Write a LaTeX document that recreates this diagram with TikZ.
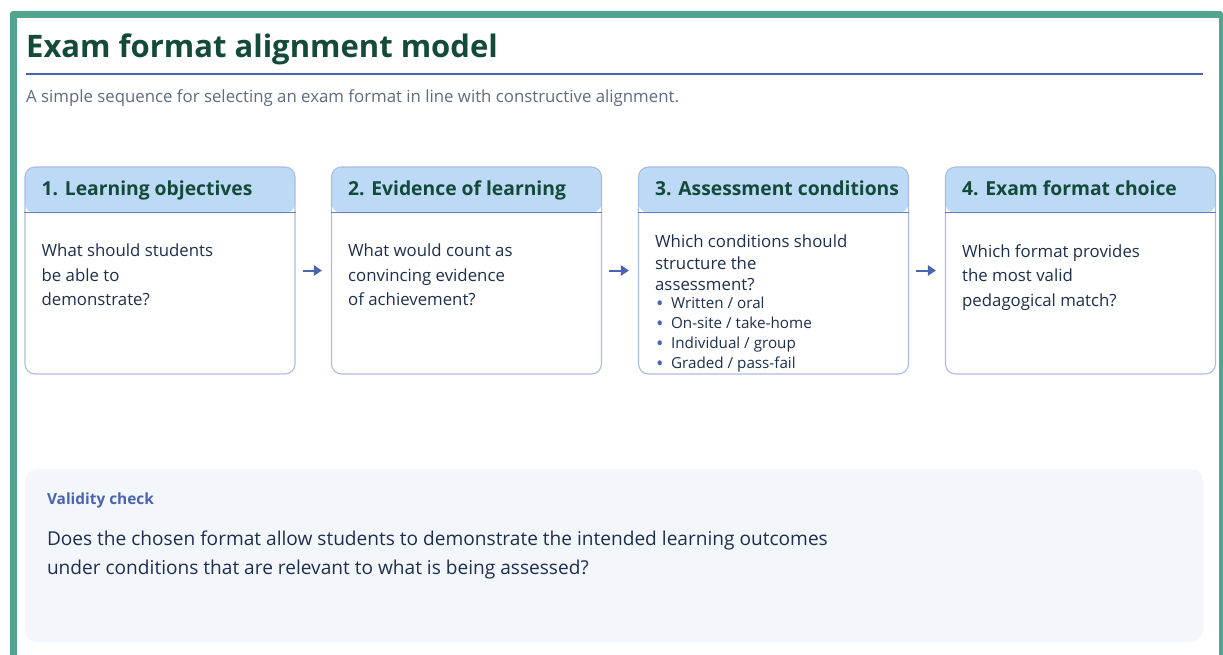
\documentclass[tikz,border=0pt]{standalone}
\usepackage{fontspec}
\setmainfont{Open Sans}
\usetikzlibrary{arrows.meta,positioning}

\definecolor{framegreen}{HTML}{52A390}
\definecolor{titlegreen}{HTML}{134A3A}
\definecolor{accent}{HTML}{4A64B0}
\definecolor{subgray}{HTML}{5F6B7F}
\definecolor{cardline}{HTML}{A9BDE0}
\definecolor{headfill}{HTML}{BCD9F5}
\definecolor{bodyink}{HTML}{1D2F4D}
\definecolor{checkfill}{HTML}{F3F6FB}

\tikzset{
    card/.style={draw=cardline, line width=1.1pt, rounded corners=10pt, fill=white,
        minimum width=270pt, minimum height=207pt, inner sep=0pt,
        path picture={\fill[headfill] (path picture bounding box.north west)
            rectangle ([yshift=-46pt]path picture bounding box.north east);}},
    headline/.style={draw=accent!85, line width=1.1pt},
    headtext/.style={font=\fontsize{19.3}{24}\selectfont\bfseries, text=titlegreen, inner sep=0pt, anchor=base west},
    bodytext/.style={font=\fontsize{16.8}{24.5}\selectfont, text=bodyink, align=left, inner sep=0pt, anchor=north west},
    flow/.style={draw=accent, line width=2pt, -{Triangle[length=8pt,width=10pt]}, shorten <=7pt, shorten >=9pt},
}
\newcommand{\bul}{\makebox[16pt][l]{\hspace{1pt}\raisebox{-2pt}{\textcolor{accent}{\scalebox{1.3}{•}}}}}

\begin{document}
\begin{tikzpicture}[x=1pt, y=-1pt]
    \clip (0,0) rectangle (1223,654);
    \fill[white] (0,0) rectangle (1223,654);

    % Frame
    \fill[framegreen, rounded corners=3pt] (10,11) rectangle (1223,700);
    \fill[white] (17,18) rectangle (1219,700);

    % Heading
    \node[font=\fontsize{31}{36}\selectfont\bfseries, text=titlegreen, inner sep=0pt, anchor=base west] (title) at (26,57) {Exam format alignment model};
    \coordinate (ruleL) at (26,74);
    \coordinate (ruleR) at (1203,74);
    \draw[accent, line width=1.8pt] (ruleL) -- (ruleR);
    \node[font=\fontsize{16.8}{20}\selectfont, text=subgray, inner sep=0pt, anchor=base west] (subtitle) at (26,102) {A simple sequence for selecting an exam format in line with constructive alignment.};

    % Cards
    \node[card] (card1) at (160,270.5) {};
    \node[card] (card2) at (466.5,270.5) {};
    \node[card] (card3) at (773.5,270.5) {};
    \node[card] (card4) at (1080.5,270.5) {};
    \foreach \c in {card1,card2,card3,card4}
        \draw[headline] ([yshift=-46pt]\c.north west) -- ([yshift=-46pt]\c.north east);

    % Card headings
    \node[headtext] (head1) at ([xshift=17pt,yshift=-29pt]card1.north west) {1. Learning objectives};
    \node[headtext] (head2) at ([xshift=17pt,yshift=-29pt]card2.north west) {2. Evidence of learning};
    \node[headtext] (head3) at ([xshift=17pt,yshift=-29pt]card3.north west) {3. Assessment conditions};
    \node[headtext] (head4) at ([xshift=17pt,yshift=-29pt]card4.north west) {4. Exam format choice};

    % Card questions
    \node[bodytext] (body1) at ([xshift=17pt,yshift=-77.5pt]card1.north west) {What should students\\be able to\\demonstrate?};
    \node[bodytext] (body2) at ([xshift=17pt,yshift=-77.5pt]card2.north west) {What would count as\\convincing evidence\\of achievement?};
    \node[bodytext, font=\fontsize{16.8}{21.5}\selectfont] (body3) at ([xshift=17pt,yshift=-68.5pt]card3.north west) {Which conditions should\\structure the\\assessment?};
    \node[bodytext, font=\fontsize{15.2}{20}\selectfont] (list3) at ([xshift=17pt,yshift=-130pt]card3.north west)
        {\bul Written / oral\\\bul On-site / take-home\\\bul Individual / group\\\bul Graded / pass-fail};
    \node[bodytext] (body4) at ([xshift=17pt,yshift=-77.5pt]card4.north west) {Which format provides\\the most valid\\pedagogical match?};

    % Arrows
    \draw[flow] (card1) -- (card2);
    \draw[flow] (card2) -- (card3);
    \draw[flow] (card3) -- (card4);

    % Validity check
    \node[fill=checkfill, rounded corners=12pt, minimum width=1178pt, minimum height=173pt, inner sep=0pt] (check) at (614,555.5) {};
    \node[font=\fontsize{15.4}{18}\selectfont\bfseries, text=accent, inner sep=0pt, anchor=base west] (checkTitle) at ([xshift=22pt,yshift=-36pt]check.north west) {Validity check};
    \node[bodytext, font=\fontsize{19.1}{29}\selectfont] (checkText) at ([xshift=22pt,yshift=-61.5pt]check.north west)
        {Does the chosen format allow students to demonstrate the intended learning outcomes\\under conditions that are relevant to what is being assessed?};
\end{tikzpicture}
\end{document}
